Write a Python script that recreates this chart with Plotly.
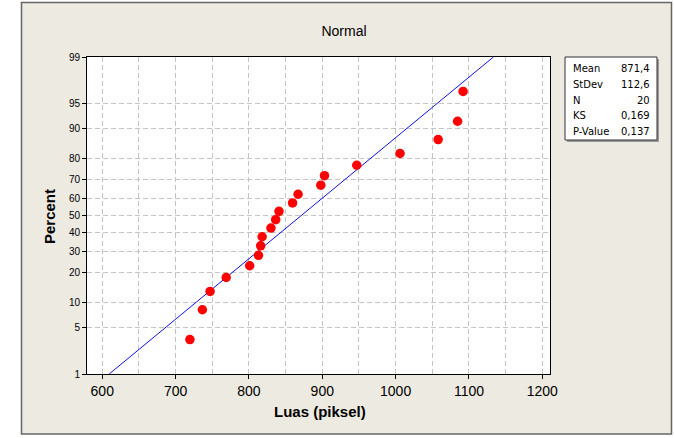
import numpy as np
import plotly.graph_objects as go

# ---- data ----
LUAS = [719.5, 736.5, 747, 769, 801, 813, 816, 818, 830, 836.5,
        841, 859.5, 867, 898, 903, 947, 1006, 1058, 1084.5, 1092]
PERCENT = [3.43, 8.33, 13.24, 18.14, 23.04, 27.94, 32.84, 37.75, 42.65, 47.55,
           52.45, 57.35, 62.25, 67.16, 72.06, 76.96, 81.86, 86.76, 91.67, 96.57]
Y_TICKS = [1, 5, 10, 20, 30, 40, 50, 60, 70, 80, 90, 95, 99]
X_TICKS = [600, 700, 800, 900, 1000, 1100, 1200]
X_MINOR = [650, 750, 850, 950, 1050, 1150]
STATS_LABELS = ["Mean", "StDev", "N", "KS", "P-Value"]
STATS_VALUES = ["871,4", "112,6", "20", "0,169", "0,137"]
MEAN = 871.4
STDEV = 112.6


def norm_ppf(p):
    """Inverse standard normal CDF (Acklam's rational approximation)."""
    p = np.asarray(p, dtype=float)
    a = [-3.969683028665376e+01, 2.209460984245205e+02, -2.759285104469687e+02,
         1.383577518672690e+02, -3.066479806614716e+01, 2.506628277459239e+00]
    b = [-5.447609879822406e+01, 1.615858368580409e+02, -1.556989798598866e+02,
         6.680131188771972e+01, -1.328068155288572e+01]
    c = [-7.784894002430293e-03, -3.223964580411365e-01, -2.400758277161838e+00,
         -2.549671010269257e+00, 4.374664141464968e+00, 2.938163982698783e+00]
    d = [7.784695709041462e-03, 3.224671290700398e-01, 2.445134137142996e+00,
         3.754408661907416e+00]
    plow = 0.02425
    phigh = 1 - plow
    out = np.empty_like(p)
    lo = p < plow
    hi = p > phigh
    mid = ~(lo | hi)
    q = np.sqrt(-2 * np.log(p[lo]))
    out[lo] = (((((c[0]*q+c[1])*q+c[2])*q+c[3])*q+c[4])*q+c[5]) / ((((d[0]*q+d[1])*q+d[2])*q+d[3])*q+1)
    q = p[mid] - 0.5
    r = q*q
    out[mid] = (((((a[0]*r+a[1])*r+a[2])*r+a[3])*r+a[4])*r+a[5])*q / (((((b[0]*r+b[1])*r+b[2])*r+b[3])*r+b[4])*r+1)
    q = np.sqrt(-2 * np.log(1 - p[hi]))
    out[hi] = -(((((c[0]*q+c[1])*q+c[2])*q+c[3])*q+c[4])*q+c[5]) / ((((d[0]*q+d[1])*q+d[2])*q+d[3])*q+1)
    return out


W, H = 674, 438
L, R, T, B = 87, 550, 57, 374  # plot area in px


def px(x):
    return (x - L) / (R - L)


def py(y):
    return (B - y) / (B - T)


z_pts = norm_ppf(np.array(PERCENT) / 100)
z_ticks = norm_ppf(np.array(Y_TICKS) / 100)
z_lo, z_hi = z_ticks[0], z_ticks[-1]
z_line = np.array([z_lo, z_hi])
x_line = MEAN + STDEV * z_line

FONT = "Liberation Sans, Arial, sans-serif"
GRID = "#c4c4c4"

fig = go.Figure()
fig.add_trace(go.Scatter(x=x_line, y=z_line, mode="lines",
                         line=dict(color="#1010e0", width=1), hoverinfo="skip"))
fig.add_trace(go.Scatter(x=LUAS, y=z_pts, mode="markers",
                         marker=dict(color="#ff0000", size=9.5, line=dict(width=0))))

fig.update_layout(
    width=W, height=H,
    margin=dict(l=L, r=W - R, t=T, b=H - B, pad=0),
    paper_bgcolor="white", plot_bgcolor="white",
    showlegend=False,
    title=dict(text="Normal", x=344 / W, xref="container", xanchor="center",
               y=1 - 31 / H, yref="container", yanchor="middle",
               font=dict(family=FONT, size=14, color="#000")),
    font=dict(family=FONT, color="#000"),
)

fig.update_xaxes(
    range=[579.2, 1210.5], tickvals=X_TICKS, ticktext=[str(v) for v in X_TICKS],
    ticks="outside", ticklen=4, tickcolor="#000",
    tickfont=dict(family=FONT, size=14, color="#000"),
    showgrid=True, gridcolor=GRID, griddash="5px,3px", gridwidth=1,
    minor=dict(tickvals=X_MINOR, showgrid=True, gridcolor=GRID, griddash="5px,3px",
               gridwidth=1, ticks=""),
    showline=True, linecolor="#000", linewidth=1, mirror=True, zeroline=False,
)
fig.update_yaxes(
    range=[z_lo, z_hi], tickvals=z_ticks, ticktext=[str(v) for v in Y_TICKS],
    ticks="outside", ticklen=4, tickcolor="#000",
    tickfont=dict(family=FONT, size=10, color="#000"),
    showgrid=True, gridcolor=GRID, griddash="5px,3px", gridwidth=1,
    showline=True, linecolor="#000", linewidth=1, mirror=True, zeroline=False,
)

# outer frame and beige background
fig.add_shape(type="rect", xref="paper", yref="paper",
              x0=px(21.5), x1=px(671.5), y0=py(434), y1=py(2.5),
              fillcolor="#edeae1", line=dict(color="#666666", width=1.5), layer="below")
fig.add_shape(type="rect", xref="paper", yref="paper", x0=0, x1=1, y0=0, y1=1,
              fillcolor="white", line=dict(width=0), layer="below")

# stats box with shadow
fig.add_shape(type="rect", xref="paper", yref="paper",
              x0=px(567), x1=px(659), y0=py(142), y1=py(59),
              fillcolor="#9a9a9a", line=dict(width=0), layer="above")
fig.add_shape(type="rect", xref="paper", yref="paper",
              x0=px(565), x1=px(657), y0=py(140), y1=py(57),
              fillcolor="white", line=dict(color="#333333", width=1), layer="above")
rows_y = [68, 84, 100, 116, 131]
for lab, val, yy in zip(STATS_LABELS, STATS_VALUES, rows_y):
    fig.add_annotation(text=lab, xref="paper", yref="paper", x=px(571), y=py(yy),
                       xanchor="left", yanchor="middle", showarrow=False,
                       font=dict(family="DejaVu Sans, sans-serif", size=10, color="#000"))
    fig.add_annotation(text=val, xref="paper", yref="paper", x=px(652), y=py(yy),
                       xanchor="right", yanchor="middle", showarrow=False,
                       font=dict(family="DejaVu Sans, sans-serif", size=10, color="#000"))

# axis titles
fig.add_annotation(text="<b>Luas (piksel)</b>", xref="paper", yref="paper",
                   x=px(320), y=py(411), xanchor="center", yanchor="middle",
                   showarrow=False, font=dict(family=FONT, size=15, color="#000"))
fig.add_annotation(text="<b>Percent</b>", xref="paper", yref="paper",
                   x=px(49), y=py(217), xanchor="center", yanchor="middle",
                   textangle=-90, showarrow=False,
                   font=dict(family=FONT, size=15, color="#000"))

fig.write_html("out.html", config={"displayModeBar": False},
               post_script="document.body.style.margin='0px';")
